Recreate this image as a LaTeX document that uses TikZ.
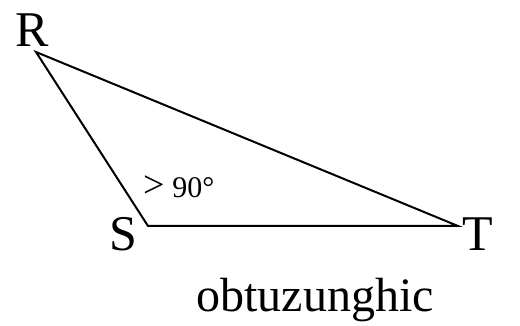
\documentclass[tikz,border=0pt]{standalone}
\usepackage{fontspec}
\setmainfont{Liberation Serif}
\begin{document}
\begin{tikzpicture}[x=0.5pt,y=-0.5pt,
  edge/.style={line width=1pt, line join=miter},
  big/.style={font=\fontsize{25}{28}\selectfont, inner sep=0pt},
  small/.style={font=\fontsize{15}{18}\selectfont, inner sep=0pt}]
\useasboundingbox (0,0) rectangle (520,326);
\coordinate (r) at (36,52);
\coordinate (s) at (148,226);
\coordinate (t) at (458,226);
\draw[edge] (r) -- (s) -- (t) -- cycle;
\node[big] (lr) at (32,30) {R};
\node[big] (ls) at (123,234) {S};
\node[big] (lt) at (478,234) {T};
\node[small] (ang) at (179,187) {{\fontsize{19}{18}\selectfont >} 90°};
\node[big, font=\fontsize{24}{28}\selectfont] (name) at (315,300) {obtuzunghic};
\end{tikzpicture}
\end{document}
